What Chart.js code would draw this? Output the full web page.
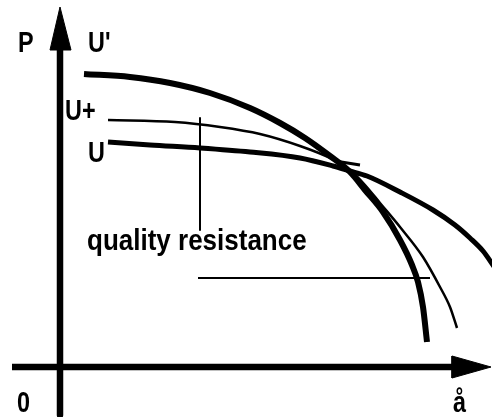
<!DOCTYPE html>
<html>
<head>
<meta charset="utf-8">
<script src="https://cdn.jsdelivr.net/npm/chart.js@4.4.1/dist/chart.umd.min.js"></script>
<style>
  html, body { margin: 0; padding: 0; background: #fff; }
  #wrap { width: 492px; height: 417px; }
</style>
</head>
<body>
<div id="wrap"><canvas id="c" width="492" height="417"></canvas></div>
<script>
// ---- Data (arbitrary units: a = horizontal, P = vertical) ----
const uPrimeA = [6, 17.5, 27.5, 37.5, 47.5, 55, 61.25, 67.5, 72.5, 76.25, 80.75, 85, 88, 89.5, 90.75, 91.75];
const uPrimeP = [73.25, 72.5, 71, 68.5, 64.75, 61, 57.25, 52.75, 48.75, 44.25, 38.75, 31.75, 25.5, 21.25, 15, 6.25];

const uPlusA = [12, 28.75, 40, 50, 60, 67.5, 72.5, 76.25, 80, 85, 90.75, 95, 97.5, 99.25];
const uPlusP = [61.75, 61.25, 60, 58.25, 55.25, 52.25, 49.25, 45.5, 41, 35, 27.5, 20, 15, 9.75];

const uA = [12, 22.5, 35, 47.5, 60, 68.25, 72.5, 76.75, 85, 93.25, 98.75, 102.5, 105.75, 108.75];
const uP = [56.25, 55.5, 54.75, 53.75, 52.25, 50.25, 49, 47.75, 43.75, 39.25, 35.5, 32.25, 29, 24.75];

// guide lines for "quality resistance"
const guideVertA = [35, 35];
const guideVertP = [62.25, 34.25];
const guideHorA = [34.5, 92.5];
const guideHorP = [22.25, 22.25];
const tickA = [68.75, 75];
const tickP = [51.5, 50.5];

// axes
const yAxisA = [0, 0];
const yAxisP = [80.5, -12];
const xAxisA = [-12, 99];
const xAxisP = [0, 0];
const yArrowA = [0, -2.5, 2.75, 0];
const yArrowP = [90, 79.25, 79.25, 90];
const xArrowA = [107.75, 98, 98, 107.75];
const xArrowP = [0, 2.75, -2.75, 0];

// text labels
const labelTexts = ['P', "U'", 'U+', 'U', '0', 'å', 'quality resistance'];
const labelA = [-10.5, 7, 1.25, 7, -10.75, 98.25, 6.75];
const labelP = [78.75, 78.75, 61.75, 51.25, -11.25, -11.25, 29.25];

const pts = (xs, ys) => xs.map((x, i) => ({ x: x, y: ys[i] }));

function lineDs(xs, ys, w, smooth) {
  return {
    data: pts(xs, ys),
    showLine: true,
    borderColor: '#000',
    backgroundColor: '#000',
    borderWidth: w,
    pointRadius: 0,
    pointHoverRadius: 0,
    borderCapStyle: 'butt',
    borderJoinStyle: 'round',
    cubicInterpolationMode: smooth ? 'monotone' : 'default',
    tension: 0,
    fill: false
  };
}
function shapeDs(xs, ys) {
  return {
    data: pts(xs, ys),
    showLine: true,
    borderColor: '#000',
    backgroundColor: '#000',
    borderWidth: 1,
    pointRadius: 0,
    fill: 'shape'
  };
}

const labelPlugin = {
  id: 'labels',
  afterDatasetsDraw(chart) {
    const ctx = chart.ctx;
    const xs = chart.scales.x, ys = chart.scales.y;
    ctx.fillStyle = '#000';
    ctx.textBaseline = 'alphabetic';
    ctx.textAlign = 'left';
    ctx.font = 'bold 26px "Liberation Sans", Arial, sans-serif';
    labelTexts.forEach((t, i) => {
      const px = xs.getPixelForValue(labelA[i]);
      const py = ys.getPixelForValue(labelP[i]);
      ctx.save();
      ctx.translate(px, py);
      ctx.scale(t.length > 2 ? 1 : 0.9, 1.1);
      ctx.fillText(t, 0, 0);
      ctx.restore();
    });
  }
};

new Chart(document.getElementById('c'), {
  type: 'scatter',
  data: {
    datasets: [
      lineDs(yAxisA, yAxisP, 6.5, false),
      lineDs(xAxisA, xAxisP, 6.5, false),
      shapeDs(yArrowA, yArrowP),
      shapeDs(xArrowA, xArrowP),
      lineDs(uPrimeA, uPrimeP, 6, true),
      lineDs(uPlusA, uPlusP, 2.5, true),
      lineDs(uA, uP, 5, true),
      lineDs(guideVertA, guideVertP, 2, false),
      lineDs(guideHorA, guideHorP, 2, false),
      lineDs(tickA, tickP, 3, false)
    ]
  },
  options: {
    responsive: false,
    animation: false,
    events: [],
    layout: { padding: 0 },
    plugins: { legend: { display: false }, tooltip: { enabled: false } },
    scales: {
      x: { type: 'linear', min: -15, max: 108, display: false },
      y: { type: 'linear', min: -12.5, max: 91.75, display: false }
    }
  },
  plugins: [labelPlugin]
});
</script>
</body>
</html>
